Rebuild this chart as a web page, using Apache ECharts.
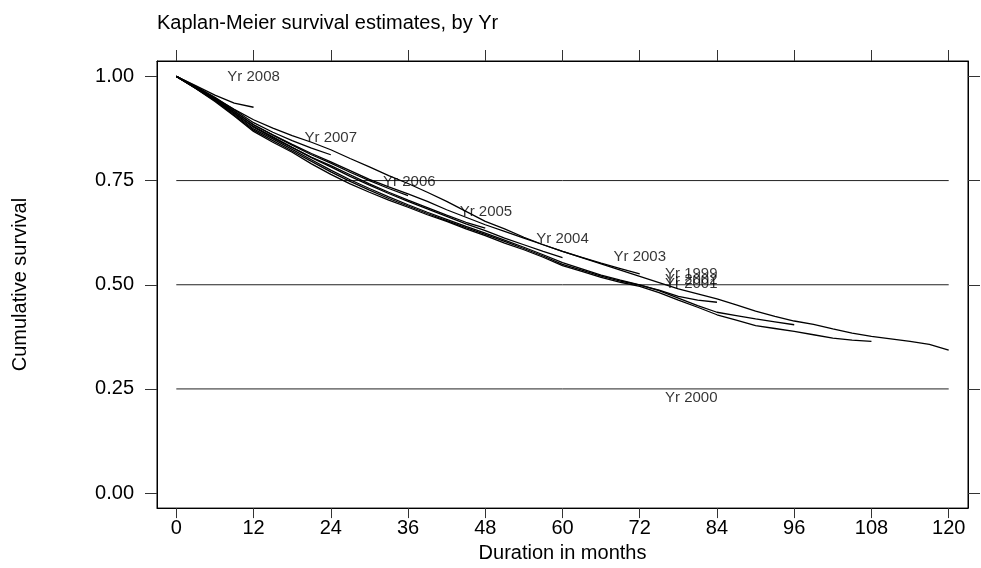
<!DOCTYPE html>
<html>
<head>
<meta charset="utf-8">
<script src="https://cdn.jsdelivr.net/npm/echarts@6/dist/echarts.min.js"></script>
<style>
html,body{margin:0;padding:0;background:#fff;}
#chart{width:981px;height:568px;}
</style>
</head>
<body>
<div id="chart"></div>
<script>
// Sampling months (every 3 months)
const months = [0,3,6,9,12,15,18,21,24,27,30,33,36,39,42,45,48,51,54,57,60,63,66,69,72,75,78,81,84,87,90,93,96,99,102,105,108,111,114,117,120];

// Kaplan-Meier survival estimates by entry year
const yr1999 = [1,.976,.948,.921,.896,.876,.858,.842,.824,.803,.783,.762,.743,.722,.7,.676,.652,.634,.614,.596,.58,.565,.55,.535,.52,.505,.49,.478,.466,.452,.437,.424,.413,.405,.394,.384,.376,.37,.364,.357,.343];
const yr2000 = [1,.971,.94,.905,.868,.842,.818,.79,.765,.742,.722,.703,.686,.668,.652,.634,.618,.6,.584,.566,.546,.532,.518,.506,.496,.481,.463,.446,.428,.415,.402,.395,.388,.38,.372,.367,.364];
const yr2001 = [1,.972,.943,.91,.874,.85,.825,.8,.775,.752,.731,.711,.692,.674,.657,.64,.624,.607,.59,.572,.553,.538,.523,.511,.5,.486,.468,.45,.434,.426,.418,.411,.404];
const yr2002 = [1,.972,.942,.907,.871,.846,.821,.796,.771,.748,.727,.707,.689,.671,.654,.637,.621,.604,.587,.569,.549,.535,.521,.509,.499,.487,.472,.463,.458];
const yr2003 = [1,.974,.946,.916,.884,.86,.837,.815,.795,.774,.753,.735,.718,.7,.68,.662,.644,.628,.612,.596,.58,.566,.552,.539,.526];
const yr2004 = [1,.973,.944,.912,.878,.853,.829,.805,.783,.76,.739,.719,.7,.682,.664,.646,.63,.612,.596,.58,.565];
const yr2005 = [1,.973,.945,.913,.88,.855,.83,.806,.786,.764,.742,.722,.703,.685,.667,.65,.636];
const yr2006 = [1,.974,.947,.917,.884,.859,.835,.812,.792,.77,.75,.731,.714];
const yr2007 = [1,.976,.95,.92,.889,.866,.846,.828,.812];
const yr2008 = [1,.978,.955,.936,.926];

const seriesNames = ['Yr 1999','Yr 2000','Yr 2001','Yr 2002','Yr 2003','Yr 2004','Yr 2005','Yr 2006','Yr 2007','Yr 2008'];
const seriesValues = [yr1999,yr2000,yr2001,yr2002,yr2003,yr2004,yr2005,yr2006,yr2007,yr2008];

// Curve labels (text placed in data coordinates)
const labelText = ['Yr 2008','Yr 2007','Yr 2006','Yr 2005','Yr 2004','Yr 2003','Yr 1999','Yr 2002','Yr 2001','Yr 2000'];
const labelX    = [12, 24, 36.2, 48.1, 60, 72, 80, 80, 80, 80];
const labelY    = [1.0, 0.852, 0.746, 0.676, 0.61, 0.566, 0.526, 0.512, 0.501, 0.229];

// Axes
const xTicks = [0,12,24,36,48,60,72,84,96,108,120];
const yTicks = [0,0.25,0.5,0.75,1];
const refLines = [0.25,0.5,0.75];

const FONT = "'Liberation Sans', Arial, Helvetica, sans-serif";

const series = [];
refLines.forEach(v => {
  series.push({
    type:'line', silent:true, symbol:'none', animation:false,
    lineStyle:{color:'#222', width:1},
    data:[[xTicks[0], v],[xTicks[xTicks.length-1], v]],
    z:1
  });
});
seriesValues.forEach((vals, k) => {
  series.push({
    name: seriesNames[k],
    type:'line', symbol:'none', animation:false,
    lineStyle:{color:'#000', width:1.3},
    data: vals.map((v,i) => [months[i], v]),
    z:3
  });
});
series.push({
  type:'scatter', symbolSize:0, animation:false, silent:true,
  data: labelText.map((t,i) => ({name:t, value:[labelX[i], labelY[i]]})),
  label:{show:true, position:'inside', formatter:p=>p.name, color:'#000', fontSize:15, fontFamily:FONT},
  z:5
});

const chart = echarts.init(document.getElementById('chart'), null, {renderer:'canvas'});
chart.setOption({
  animation:false,
  backgroundColor:'#fff',
  title:{
    text:'Kaplan-Meier survival estimates, by Yr',
    left:152, top:8,
    textStyle:{fontSize:20, fontWeight:'normal', color:'#000', fontFamily:FONT}
  },
  grid:{left:157, right:13, top:61, bottom:50, show:true, borderColor:'#000', borderWidth:1, backgroundColor:'#fff'},
  xAxis:[{
    type:'value', min:-3, max:123, position:'bottom',
    axisLine:{show:true, onZero:false, lineStyle:{color:'#000'}},
    axisTick:{show:true, customValues:xTicks, length:10, inside:false, lineStyle:{color:'#333'}},
    axisLabel:{show:true, customValues:xTicks, fontSize:20, margin:10, color:'#000', fontFamily:FONT},
    splitLine:{show:false},
    name:'Duration in months', nameLocation:'middle', nameGap:30,
    nameTextStyle:{fontSize:20, color:'#000', fontFamily:FONT}
  },{
    type:'value', min:-3, max:123, position:'top',
    axisLine:{show:true, onZero:false, lineStyle:{color:'#000'}},
    axisTick:{show:true, customValues:xTicks, length:11, inside:false, lineStyle:{color:'#333'}},
    axisLabel:{show:false},
    splitLine:{show:false}
  }],
  yAxis:[{
    type:'value', min:-0.036, max:1.037, position:'left',
    axisLine:{show:true, onZero:false, lineStyle:{color:'#000'}},
    axisTick:{show:true, customValues:yTicks, length:12, inside:false, lineStyle:{color:'#333'}},
    axisLabel:{show:true, customValues:yTicks, formatter:v=>v.toFixed(2), fontSize:20, margin:23, color:'#000', fontFamily:FONT},
    splitLine:{show:false},
    name:'Cumulative survival', nameLocation:'middle', nameGap:127,
    nameTextStyle:{fontSize:20, color:'#000', fontFamily:FONT}
  },{
    type:'value', min:-0.036, max:1.037, position:'right',
    axisLine:{show:true, onZero:false, lineStyle:{color:'#000'}},
    axisTick:{show:true, customValues:yTicks, length:12, inside:false, lineStyle:{color:'#333'}},
    axisLabel:{show:false},
    splitLine:{show:false}
  }],
  series: series
});
</script>
</body>
</html>
